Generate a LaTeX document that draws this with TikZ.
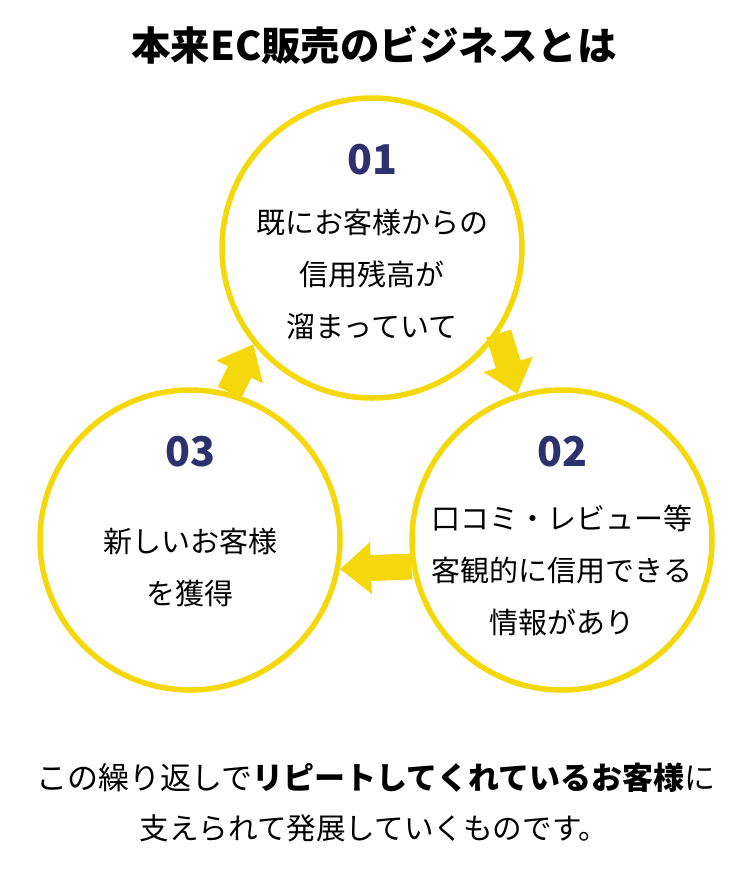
\documentclass[tikz,border=0pt]{standalone}
\usepackage{fontspec}
\setmainfont{Noto Sans CJK JP}
\usetikzlibrary{arrows.meta}
\definecolor{ringyellow}{RGB}{245,216,12}
\definecolor{numnavy}{RGB}{45,50,110}
\begin{document}
\begin{tikzpicture}[x=1pt,y=-1pt,
  every node/.style={inner sep=0pt},
  ring/.style={circle,draw=ringyellow,line width=5.5pt,minimum size=300pt},
  num/.style={font=\fontsize{41}{41}\selectfont\bfseries,text=numnavy},
  body/.style={font=\fontsize{29}{52}\selectfont,align=center},
  ttl/.style={font=\fontsize{39.5}{39.5}\selectfont\bfseries},
  foot/.style={font=\fontsize{31}{31}\selectfont},
  ar/.style={-{Triangle[width=50pt,length=31pt]},line width=26pt,draw=ringyellow}]
\useasboundingbox (0,0) rectangle (750,879);
\node[ttl] (title) at (374,45) {本来EC販売のビジネスとは};
\node[ring] (c1) at (372,248) {};
\node[ring] (c2) at (562,540) {};
\node[ring] (c3) at (190,540) {};
\node[num] (n1) at (372,160) {01};
\node[num] (n2) at (562,452) {02};
\node[num] (n3) at (190,452) {03};
\node[body] (t1) at (372,274) {既にお客様からの\\信用残高が\\溜まっていて};
\node[body] (t2) at (562,570) {口コミ・レビュー等\\客観的に信用できる\\情報があり};
\node[body] (t3) at (190,567) {新しいお客様\\を獲得};
\foreach \a/\b in {c1.-34/c2.107,c2.190/c3.-11,c3.75/c1.219}
  \draw[ar] (\a) -- (\b);
\node[foot] (f1) at (376,778) {この繰り返しで\textbf{リピートしてくれているお客様}に};
\node[foot,font=\fontsize{29.6}{29.6}\selectfont] (f2) at (374,828) {支えられて発展していくものです。};
\end{tikzpicture}
\end{document}
